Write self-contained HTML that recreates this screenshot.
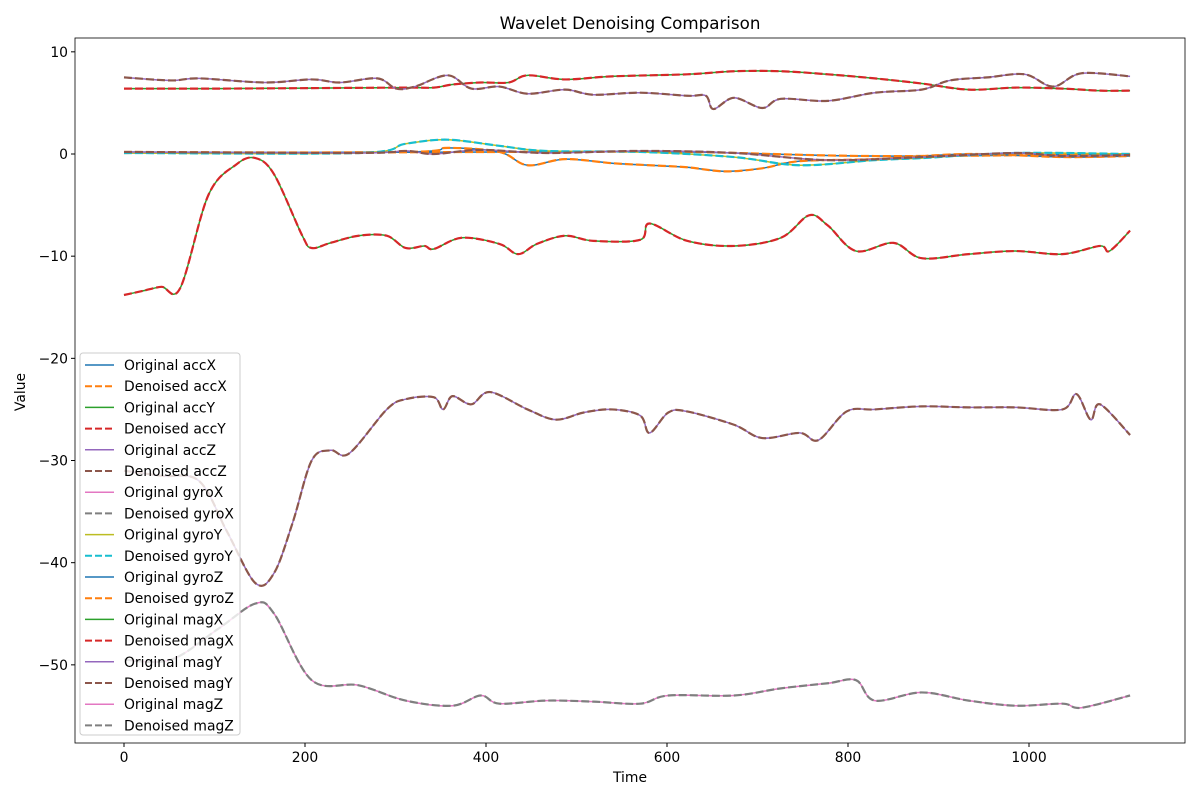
<!DOCTYPE html>
<html><head><meta charset="utf-8"><style>
body{margin:0;background:#fff;}
svg text{font-family:"DejaVu Sans","Liberation Sans",sans-serif;}
</style></head><body>
<svg id="s" width="1200" height="800" xmlns="http://www.w3.org/2000/svg">
<rect width="1200" height="800" fill="#fff"/>
<g id="lines"></g>
<rect x="75" y="38" width="1110" height="705" fill="none" stroke="#000" stroke-width="0.8"/>
<g id="ticks" font-size="13.9"></g>
<text x="630" y="29" font-size="16.7" text-anchor="middle">Wavelet Denoising Comparison</text>
<text x="630" y="782" font-size="13.9" text-anchor="middle">Time</text>
<text x="25" y="392" font-size="13.9" text-anchor="middle" transform="rotate(-90 25 392)">Value</text>
<g id="legend" font-size="13.9"></g>
</svg>
<script>
const X=t=>124+t*1.037*0.905, Y=v=>154-v*10.217;
const Xt=t=>124+t*0.905;
const ns="http://www.w3.org/2000/svg";
function el(p,n,a,txt){const e=document.createElementNS(ns,n);for(const k in a)e.setAttribute(k,a[k]);if(txt!==undefined)e.textContent=txt;p.appendChild(e);return e;}
function path(pts){let P=pts.map(p=>[X(p[0]),Y(p[1])]);let d="M"+P[0][0]+","+P[0][1];
for(let i=0;i<P.length-1;i++){const p0=P[i-1]||P[i],p1=P[i],p2=P[i+1],p3=P[i+2]||P[i+1];
d+=` C${p1[0]+(p2[0]-p0[0])/6},${p1[1]+(p2[1]-p0[1])/6} ${p2[0]-(p3[0]-p1[0])/6},${p2[1]-(p3[1]-p1[1])/6} ${p2[0]},${p2[1]}`;}return d;}
const C={b:"#1f77b4",o:"#ff7f0e",g:"#2ca02c",r:"#d62728",p:"#9467bd",br:"#8c564b",pk:"#e377c2",gr:"#7f7f7f",y:"#bcbd22",c:"#17becf"};
const S=[
{o:C.g,d:C.r,pts:[[0,6.4],[100,6.4],[200,6.45],[300,6.5],[330,6.5],[350,6.8],[380,7.0],[410,7.0],[430,7.7],[470,7.3],[520,7.6],[600,7.8],[650,8.1],[700,8.1],[750,7.8],[800,7.4],[850,6.9],[900,6.3],[950,6.5],[1000,6.4],[1040,6.2],[1072,6.2]]},
{o:C.p,d:C.br,pts:[[0,7.5],[50,7.2],[80,7.4],[150,7.0],[200,7.3],[230,7.0],[270,7.4],[290,6.4],[310,6.6],[345,7.7],[370,6.4],[400,6.6],[430,5.9],[470,6.3],[500,5.8],[550,6.0],[600,5.7],[620,5.7],[628,4.4],[650,5.5],[680,4.5],[700,5.4],[750,5.2],[800,6.0],[850,6.3],[880,7.2],[920,7.5],[960,7.8],[990,6.6],[1020,7.9],[1072,7.6]]},
{o:C.b,d:C.o,pts:[[0,0.2],[200,0.15],[400,0.2],[600,0.2],[800,-0.2],[1072,0.0]]},
{o:C.b,d:C.o,pts:[[0,0.1],[300,0.2],[345,0.6],[400,0.2],[430,-1.1],[470,-0.5],[520,-0.9],[560,-1.1],[600,-1.3],[640,-1.7],[680,-1.4],[720,-0.7],[800,-0.5],[900,0],[1000,-0.3],[1072,-0.2]]},
{o:C.y,d:C.c,pts:[[0,0.1],[250,0.1],[300,1.0],[345,1.4],[400,0.8],[450,0.3],[550,0.2],[650,-0.3],[720,-1.1],[800,-0.6],[850,-0.4],[950,0.1],[1072,0]]},
{o:C.p,d:C.br,pts:[[0,0.2],[250,0.1],[300,0.3],[330,0.0],[380,0.4],[450,0.1],[550,0.3],[650,0.1],[750,-0.6],[850,-0.3],[950,0.1],[1000,-0.2],[1072,-0.1]]},
{o:C.g,d:C.r,pts:[[0,-13.8],[20,-13.4],[40,-13.0],[60,-13.1],[90,-4],[120,-1],[140,-0.4],[160,-2],[190,-8],[200,-9.2],[220,-8.7],[250,-8],[280,-8],[300,-9.2],[320,-9],[330,-9.3],[360,-8.2],[400,-8.8],[420,-9.8],[440,-8.8],[470,-8],[500,-8.5],[550,-8.4],[560,-6.8],[600,-8.5],[650,-9],[700,-8.2],[730,-6],[750,-7],[780,-9.5],[820,-8.7],[850,-10.2],[900,-9.8],[950,-9.5],[1000,-9.8],[1040,-9],[1050,-9.5],[1072,-7.5]]},
{o:C.p,d:C.br,pts:[[0,-31],[40,-31.5],[80,-32],[110,-37],[140,-42],[160,-41],[180,-36],[200,-30],[220,-29],[240,-29.3],[280,-25],[300,-24],[330,-23.8],[340,-25],[350,-23.7],[370,-24.5],[390,-23.3],[430,-25],[460,-26],[490,-25.3],[520,-25],[550,-25.6],[560,-27.3],[580,-25.3],[600,-25.2],[650,-26.5],[680,-27.8],[720,-27.3],[740,-28],[770,-25.2],[800,-25],[850,-24.7],[900,-24.8],[950,-24.8],[1000,-25],[1015,-23.5],[1030,-26],[1040,-24.5],[1072,-27.5]]},
{o:C.pk,d:C.gr,pts:[[0,-49.5],[50,-49.5],[100,-46.5],[140,-44],[160,-45],[200,-51.5],[250,-52],[300,-53.5],[350,-54],[380,-53],[400,-53.8],[450,-53.5],[500,-53.6],[550,-53.8],[580,-53],[650,-53],[700,-52.3],[750,-51.8],[780,-51.5],[800,-53.5],[850,-52.7],[900,-53.5],[950,-54],[1000,-53.8],[1020,-54.2],[1072,-53]]}
];
const L=document.getElementById("lines");
S.forEach(s=>{const d=path(s.pts);el(L,"path",{d,fill:"none",stroke:s.o,"stroke-width":1.5});el(L,"path",{d,fill:"none",stroke:s.d,"stroke-width":2.2,"stroke-dasharray":"8,3"});});
const T=document.getElementById("ticks");
[0,200,400,600,800,1000].forEach(t=>{el(T,"line",{x1:Xt(t),x2:Xt(t),y1:743,y2:747,stroke:"#000"});el(T,"text",{x:Xt(t),y:762,"text-anchor":"middle"},t);});
[10,0,-10,-20,-30,-40,-50].forEach(v=>{el(T,"line",{x1:71,x2:75,y1:Y(v),y2:Y(v),stroke:"#000"});el(T,"text",{x:68,y:Y(v)+5,"text-anchor":"end"},v<0?"\u2212"+(-v):v);});
const G=document.getElementById("legend");
el(G,"rect",{x:80,y:353,width:160,height:382,rx:3,fill:"#fff","fill-opacity":0.8,stroke:"#ccc"});
const names=["accX","accY","accZ","gyroX","gyroY","gyroZ","magX","magY","magZ"];
const cols=[[C.b,C.o],[C.g,C.r],[C.p,C.br],[C.pk,C.gr],[C.y,C.c],[C.b,C.o],[C.g,C.r],[C.p,C.br],[C.pk,C.gr]];
let y=365;
names.forEach((n,i)=>{
el(G,"line",{x1:85,x2:114,y1:y,y2:y,stroke:cols[i][0],"stroke-width":1.5});el(G,"text",{x:124,y:y+5},"Original "+n);y+=21.2;
el(G,"line",{x1:85,x2:114,y1:y,y2:y,stroke:cols[i][1],"stroke-width":2,"stroke-dasharray":"7,3"});el(G,"text",{x:124,y:y+5},"Denoised "+n);y+=21.2;});
</script>
</body></html>
